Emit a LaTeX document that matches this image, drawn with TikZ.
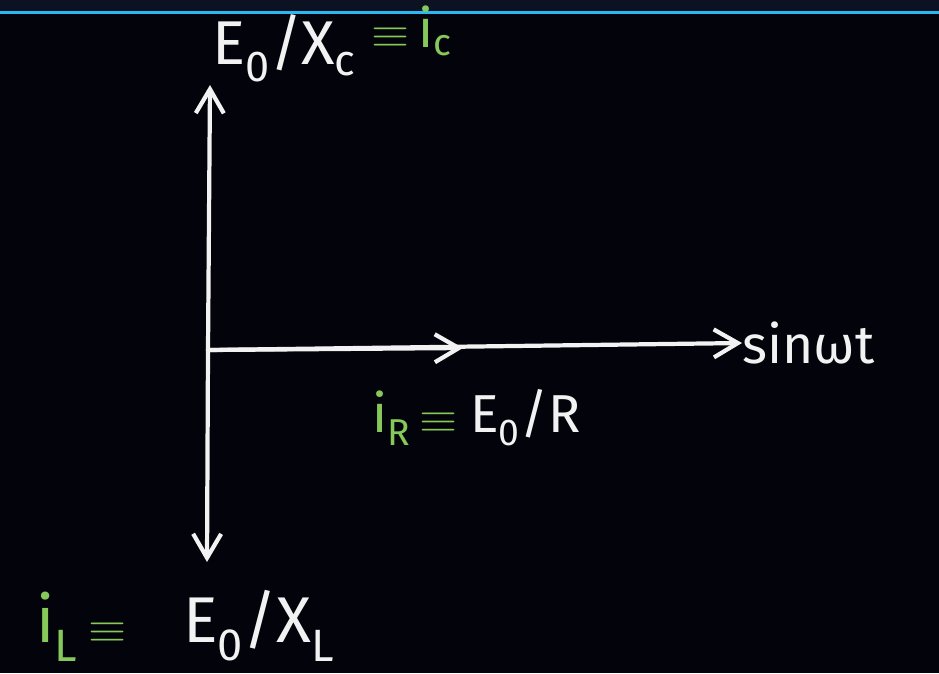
\documentclass[tikz,border=0pt]{standalone}
\usepackage{fontspec}
\setmainfont{Fira Sans}
\usetikzlibrary{arrows.meta,positioning}
\definecolor{bgdark}{HTML}{03030B}
\definecolor{bardark}{HTML}{0C1222}
\definecolor{barblue}{HTML}{2CB6F2}
\definecolor{chalk}{HTML}{F2F2F2}
\definecolor{chalkgreen}{HTML}{86C95A}
\newcommand{\bigeq}{\,\scalebox{1.4}[1.2]{$\equiv$}\,}
\begin{document}
\begin{tikzpicture}[
  x=0.025cm, y=-0.025cm,
  phasor/.style={draw=chalk, line width=3pt, line cap=round,
    -{Straight Barb[length=6mm, width=7mm, line width=3pt]}},
  chalktext/.style={text=chalk, inner sep=0pt, font=\fontsize{38}{40}\selectfont},
  greentext/.style={text=chalkgreen, inner sep=0pt, font=\fontsize{38}{40}\selectfont}
]
  % board
  \fill[bgdark] (0,0) rectangle (939,673);
  \useasboundingbox (0,0) rectangle (939,673);

  % top bar
  \fill[bardark] (0,0) rectangle (939,11);
  \fill[barblue] (0,11) rectangle (939,14);

  % axes
  \coordinate (O) at (208,350);
  \coordinate (up) at (210,85);
  \coordinate (down) at (207,562);
  \coordinate (iRhead) at (463,348);
  \node[chalktext, anchor=west] (sin) at (742,343) {sinωt};
  \draw[phasor] (O) -- (up);
  \draw[phasor] (O) -- (down);
  \draw[phasor] (O) -- (sin.west);
  \draw[phasor] (O) -- (iRhead);

  % labels
  \node[chalktext, anchor=base west] (ER) at (470,432) {E\textsubscript{0}/R};
  \node[greentext, anchor=base east] (iR) at ([xshift=-2]ER.base west) {i\textsubscript{R}\bigeq};
  \node[chalktext, anchor=base west, font=\fontsize{46}{50}\selectfont] (EL) at (183,642) {E\textsubscript{0}/X\textsubscript{L}};
  \node[greentext, anchor=base west, font=\fontsize{46}{50}\selectfont] (iL) at (36,642) {i\textsubscript{L}\bigeq};
  \node[chalktext, anchor=base west, font=\fontsize{44}{48}\selectfont] (EC) at (212,64) {E\textsubscript{0}/X\textsubscript{c}};
  \node[greentext, anchor=base west] (iC) at ([xshift=4,yshift=12]EC.base east) {\bigeq i\textsubscript{c}};
\end{tikzpicture}
\end{document}
